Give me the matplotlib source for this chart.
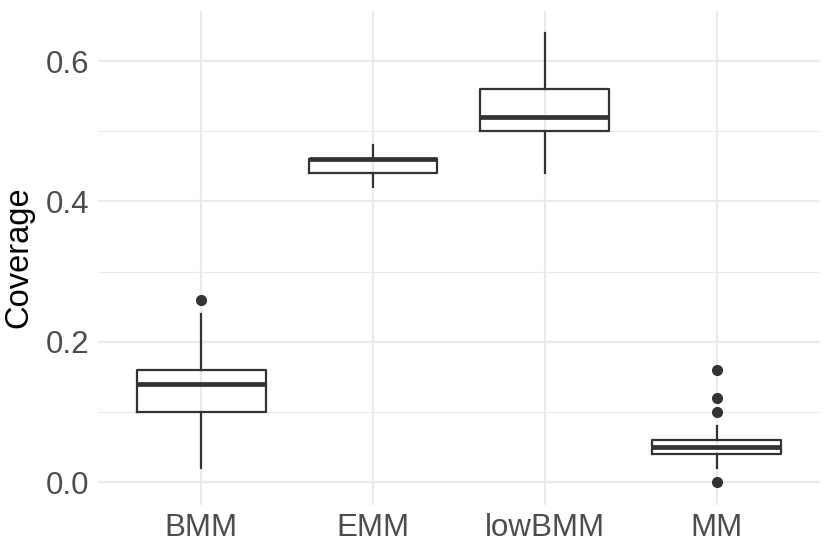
import matplotlib
matplotlib.use("Agg")
import matplotlib.pyplot as plt

# datos
metodos = ["BMM", "EMM", "lowBMM", "MM"]
whislo = [0.02, 0.42, 0.44, 0.02]
q1 = [0.10, 0.44, 0.50, 0.04]
mediana = [0.14, 0.46, 0.52, 0.05]
q3 = [0.16, 0.46, 0.56, 0.06]
whishi = [0.24, 0.48, 0.64, 0.08]
atipicos = [[0.26], [], [], [0.16, 0.12, 0.10, 0.0]]

plt.rcParams["font.family"] = ["Liberation Sans", "DejaVu Sans"]

fig = plt.figure(figsize=(8.3, 5.54), dpi=100)
ax = fig.add_axes([0.118, 0.089, 0.870, 0.892])

stats = []
for i in range(len(metodos)):
    stats.append({"label": metodos[i], "whislo": whislo[i], "q1": q1[i],
                  "med": mediana[i], "q3": q3[i], "whishi": whishi[i],
                  "fliers": atipicos[i]})

gris = "#333333"
ax.bxp(stats, positions=range(1, len(metodos) + 1), widths=0.75,
       showcaps=False, patch_artist=False,
       boxprops=dict(color=gris, linewidth=1.6),
       whiskerprops=dict(color=gris, linewidth=1.6),
       medianprops=dict(color=gris, linewidth=3.4, solid_capstyle="butt"),
       flierprops=dict(marker="o", markerfacecolor=gris, markeredgecolor=gris,
                       markersize=7))

ax.set_xlim(0.4, 4.6)
ax.set_ylim(-0.032, 0.672)
ax.set_yticks([0.0, 0.2, 0.4, 0.6])
ax.set_yticklabels(["0.0", "0.2", "0.4", "0.6"])
ax.set_yticks([0.1, 0.3, 0.5], minor=True)

ax.grid(True, which="major", color="#EBEBEB", linewidth=1.6)
ax.grid(True, which="minor", axis="y", color="#EBEBEB", linewidth=0.8)
ax.set_axisbelow(True)
for s in ax.spines.values():
    s.set_visible(False)
ax.tick_params(which="both", length=0, labelsize=22.5, labelcolor="#4D4D4D", pad=6)

ax.set_ylabel("Coverage", fontsize=23.5, color="black", labelpad=8)
ax.set_xlabel("")

fig.savefig("out.png", dpi=100)
